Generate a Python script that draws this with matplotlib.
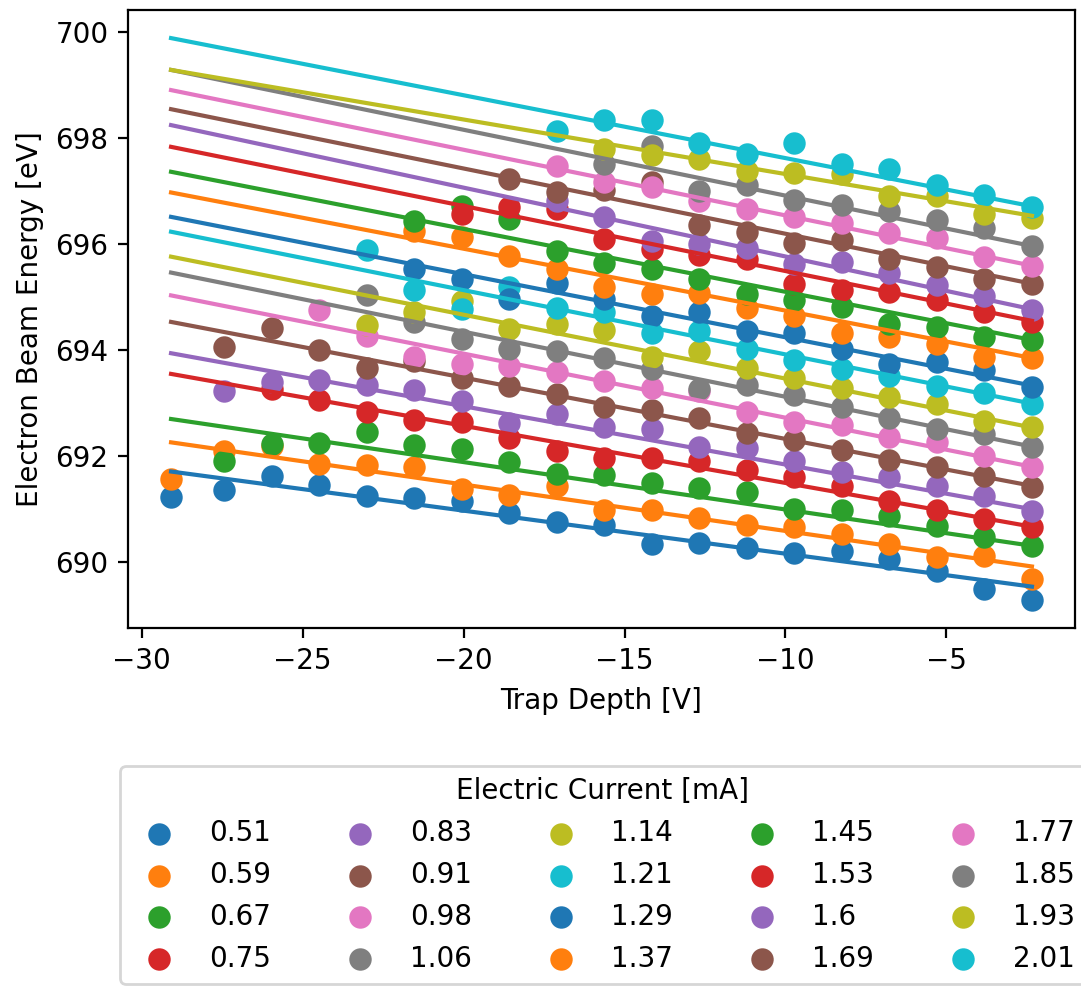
import numpy as np
import matplotlib.pyplot as plt

nan = np.nan

# electric current of each run [mA]
currents = [0.51, 0.59, 0.67, 0.75, 0.83, 0.91, 0.98, 1.06, 1.14, 1.21,
            1.29, 1.37, 1.45, 1.53, 1.6, 1.69, 1.77, 1.85, 1.93, 2.01]

# trap depth settings [V]
trap_depth = [-29.09, -27.43, -25.96, -24.48, -23.00, -21.53, -20.06, -18.58,
              -17.10, -15.63, -14.14, -12.67, -11.19, -9.73, -8.25, -6.77,
              -5.29, -3.83, -2.34]

# electron beam energy [eV], one row per current, nan = not measured
energy = [
    [691.23, 691.36, 691.63, 691.45, 691.24, 691.21, 691.16, 690.92, 690.75, 690.71,
     690.35, 690.37, 690.27, 690.18, 690.22, 690.06, 689.83, 689.50, 689.29],
    [691.56, 692.10, 692.19, 691.86, 691.84, 691.79, 691.38, 691.27, 691.44, 690.99,
     690.98, 690.84, 690.71, 690.67, 690.53, 690.35, 690.10, 690.12, 689.68],
    [nan, 691.91, 692.23, 692.24, 692.45, 692.21, 692.14, 691.89, 691.67, 691.64,
     691.49, 691.40, 691.33, 691.00, 690.98, 690.88, 690.69, 690.47, 690.31],
    [nan, nan, 693.26, 693.06, 692.84, 692.68, 692.65, 692.34, 692.10, 691.96,
     691.96, 691.90, 691.74, 691.61, 691.44, 691.16, 690.98, 690.81, 690.67],
    [nan, 693.22, 693.39, 693.44, 693.34, 693.25, 693.03, 692.62, 692.79, 692.54,
     692.51, 692.18, 692.15, 691.91, 691.70, 691.61, 691.44, 691.25, 690.96],
    [nan, 694.05, 694.42, 694.00, 693.66, 693.80, 693.48, 693.33, 693.18, 692.93,
     692.87, 692.72, 692.43, 692.30, 692.11, 691.93, 691.80, 691.63, 691.42],
    [nan, nan, nan, 694.75, 694.27, 693.87, 693.73, 693.69, 693.58, 693.41,
     693.28, 693.22, 692.84, 692.65, 692.59, 692.36, 692.27, 692.01, 691.79],
    [nan, nan, nan, nan, 695.04, 694.52, 694.20, 694.02, 693.98, 693.85,
     693.64, 693.26, 693.35, 693.15, 692.92, 692.72, 692.51, 692.42, 692.18],
    [nan, nan, nan, nan, 694.47, 694.72, 694.93, 694.40, 694.49, 694.37,
     693.86, 693.99, 693.67, 693.47, 693.28, 693.12, 692.99, 692.67, 692.54],
    [nan, nan, nan, nan, 695.89, 695.13, 694.77, 695.18, 694.80, 694.71,
     694.32, 694.36, 694.02, 693.81, 693.65, 693.51, 693.33, 693.19, 692.98],
    [nan, nan, nan, nan, nan, 695.52, 695.34, 694.96, 695.27, 694.96,
     694.64, 694.72, 694.36, 694.33, 694.02, 693.74, 693.78, 693.62, 693.31],
    [nan, nan, nan, nan, nan, 696.24, 696.13, 695.77, 695.52, 695.18,
     695.06, 695.08, 694.79, 694.64, 694.33, 694.24, 694.12, 693.87, 693.85],
    [nan, nan, nan, nan, nan, 696.43, 696.71, 696.47, 695.87, 695.64,
     695.53, 695.34, 695.06, 694.94, 694.81, 694.50, 694.44, 694.24, 694.19],
    [nan, nan, nan, nan, nan, nan, 696.56, 696.69, 696.65, 696.10,
     695.90, 695.79, 695.71, 695.25, 695.13, 695.10, 694.94, 694.71, 694.52],
    [nan, nan, nan, nan, nan, nan, nan, nan, 696.81, 696.50,
     696.06, 695.99, 695.93, 695.62, 695.65, 695.46, 695.23, 695.02, 694.75],
    [nan, nan, nan, nan, nan, nan, nan, 697.22, 696.97, 697.01,
     697.16, 696.36, 696.23, 696.02, 696.07, 695.71, 695.57, 695.34, 695.25],
    [nan, nan, nan, nan, nan, nan, nan, nan, 697.47, 697.16,
     697.08, 696.81, 696.65, 696.51, 696.40, 696.21, 696.12, 695.76, 695.59],
    [nan, nan, nan, nan, nan, nan, nan, nan, nan, 697.50,
     697.85, 697.00, 697.11, 696.82, 696.74, 696.62, 696.45, 696.30, 695.96],
    [nan, nan, nan, nan, nan, nan, nan, nan, nan, 697.78,
     697.67, 697.60, 697.38, 697.34, 697.31, 696.90, 696.90, 696.57, 696.48],
    [nan, nan, nan, nan, nan, nan, nan, nan, 698.13, 698.34,
     698.34, 697.91, 697.70, 697.91, 697.50, 697.41, 697.11, 696.92, 696.70],
]

# linear fit results: fitted energy [eV] at the deepest and shallowest trap setting
fit_deep = [691.71, 692.26, 692.70, 693.55, 693.94, 694.53, 695.03, 695.46, 695.76, 696.23,
            696.51, 696.97, 697.36, 697.83, 698.24, 698.54, 698.90, 699.28, 699.28, 699.88]
fit_shallow = [689.54, 689.92, 690.31, 690.67, 691.00, 691.44, 691.80, 692.18, 692.54, 692.99,
               693.33, 693.85, 694.19, 694.55, 694.77, 695.25, 695.59, 695.96, 696.53, 696.71]

fig = plt.figure(figsize=(1081 / 200, 989 / 200), dpi=200)
ax = fig.add_axes([128 / 1081, 361 / 989, 947 / 1081, 618 / 989])

colors = plt.rcParams['axes.prop_cycle'].by_key()['color']
x = np.array(trap_depth)
x_ends = [trap_depth[0], trap_depth[-1]]

for i, cur in enumerate(currents):
    y = np.array(energy[i], dtype=float)
    ok = ~np.isnan(y)
    c = colors[i % len(colors)]
    ax.scatter(x[ok], y[ok], color=c, s=50, label=str(cur))
    ax.plot(x_ends, [fit_deep[i], fit_shallow[i]], color=c)

ax.set_xlabel('Trap Depth [V]')
ax.set_ylabel('Electron Beam Energy [eV]')

fig.legend(*ax.get_legend_handles_labels(), title='Electric Current [mA]',
           ncol=5, loc='upper center', borderaxespad=0, columnspacing=2.2,
           bbox_to_anchor=(603 / 1081, 1 - 766 / 989))

fig.savefig('out.png', dpi=200)
